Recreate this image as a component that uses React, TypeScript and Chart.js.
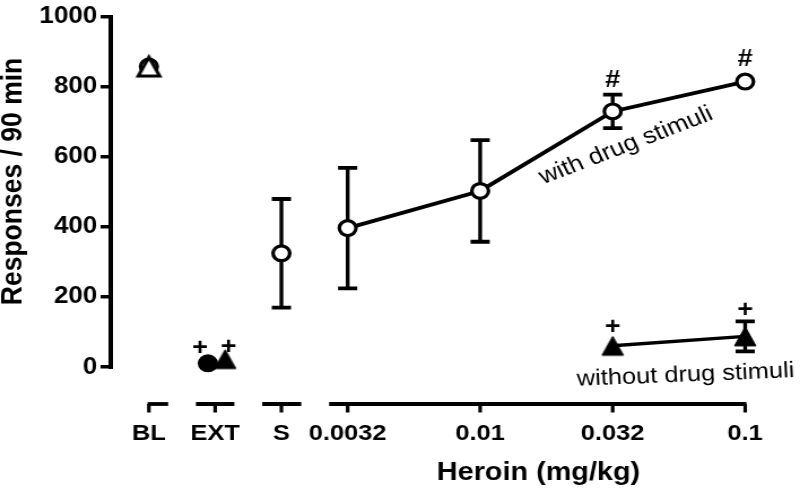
import React, { useEffect, useRef } from "react";
import { Chart, registerables } from "chart.js";

Chart.register(...registerables);

// ---------------- data ----------------
const categoryLabels = ["BL", "EXT", "S", "0.0032", "0.01", "0.032", "0.1"];
const categoryX = [0, 1, 2, 3, 5, 7, 9];
const yTickValues = [0, 200, 400, 600, 800, 1000];

const doseX = [3, 5, 7, 9];
const withDrugMean = [397, 503, 730, 815];
const withDrugSem = [172, 145, 48, 0];

const withoutDoseX = [7, 9];
const withoutDrugMean = [61, 88];
const withoutDrugSem = [0, 43];

const salineX = [2];
const salineMean = [325];
const salineSem = [155];

const baselineX = [0];
const baselineCircle = [858];
const baselineTriangle = [858];

const extCircleX = [0.89];
const extCircle = [11];
const extTriangleX = [1.15];
const extTriangle = [23];

// broken x-axis pieces (in category units)
const axisPieces = [
  [-0.02, 0.29],
  [0.71, 1.29],
  [1.71, 2.3],
  [2.72, 9.02],
];

// ---------------- styling ----------------
const W = 708; // drawn narrower, shown stretched to 800 (reference is horizontally stretched)
const H = 496;
const FONT = "'Liberation Sans', Arial, Helvetica, sans-serif";

function makeTriangle(w: number, h: number, fill: string, stroke: string, lw: number) {
  const pad = lw + 1;
  const c = document.createElement("canvas");
  c.width = Math.ceil(w + pad * 2);
  c.height = Math.ceil(h + pad * 2);
  const g = c.getContext("2d")!;
  const cx = c.width / 2;
  const top = (c.height - h) / 2;
  g.beginPath();
  g.moveTo(cx, top);
  g.lineTo(cx + w / 2, top + h);
  g.lineTo(cx - w / 2, top + h);
  g.closePath();
  g.fillStyle = fill;
  g.fill();
  if (lw > 0) {
    g.lineJoin = "miter";
    g.strokeStyle = stroke;
    g.lineWidth = lw;
    g.stroke();
  }
  return c;
}

const errorSeries = [
  { xs: doseX, m: withDrugMean, e: withDrugSem },
  { xs: salineX, m: salineMean, e: salineSem },
  { xs: withoutDoseX, m: withoutDrugMean, e: withoutDrugSem },
];

function topPx(ys: any, m: number, e: number, half: number) {
  return e > 0 ? ys.getPixelForValue(m + e) - 1.75 : ys.getPixelForValue(m) - half;
}

const figurePlugin = {
  id: "figure",
  beforeDatasetsDraw(chart: any) {
    const ctx = chart.ctx;
    const xs = chart.scales.x;
    const ys = chart.scales.y;
    const area = chart.chartArea;
    ctx.save();
    ctx.strokeStyle = "#000";
    ctx.lineCap = "butt";
    // y axis line (only 0..1000)
    ctx.lineWidth = 4;
    ctx.beginPath();
    ctx.moveTo(area.left, ys.getPixelForValue(1000) - 1.75);
    ctx.lineTo(area.left, ys.getPixelForValue(0) + 1.75);
    ctx.stroke();
    // broken x axis
    const yAxis = area.bottom;
    ctx.lineWidth = 3.8;
    for (const [a, b] of axisPieces) {
      ctx.beginPath();
      ctx.moveTo(xs.getPixelForValue(a), yAxis);
      ctx.lineTo(xs.getPixelForValue(b), yAxis);
      ctx.stroke();
    }
    ctx.lineWidth = 3.2;
    for (const v of categoryX) {
      const x = xs.getPixelForValue(v);
      ctx.beginPath();
      ctx.moveTo(x, yAxis);
      ctx.lineTo(x, yAxis + 8.5);
      ctx.stroke();
    }
    // error bars
    const capHalf = 8.5;
    for (const s of errorSeries) {
      s.xs.forEach((xv, i) => {
        const e = s.e[i];
        if (!(e > 0)) return;
        const x = xs.getPixelForValue(xv);
        const yt = ys.getPixelForValue(s.m[i] + e);
        const yb = ys.getPixelForValue(s.m[i] - e);
        ctx.lineWidth = 3.4;
        ctx.beginPath();
        ctx.moveTo(x, yt);
        ctx.lineTo(x, yb);
        ctx.stroke();
        ctx.lineWidth = 3.8;
        ctx.beginPath();
        ctx.moveTo(x - capHalf, yt);
        ctx.lineTo(x + capHalf, yt);
        ctx.moveTo(x - capHalf, yb);
        ctx.lineTo(x + capHalf, yb);
        ctx.stroke();
      });
    }
    ctx.restore();
  },
  afterDatasetsDraw(chart: any) {
    const ctx = chart.ctx;
    const xs = chart.scales.x;
    const ys = chart.scales.y;
    const area = chart.chartArea;
    ctx.save();
    ctx.fillStyle = "#000";
    ctx.textAlign = "center";
    ctx.textBaseline = "middle";

    const marks = [
      { t: "#", x: doseX[2], y: topPx(ys, withDrugMean[2], withDrugSem[2], 9) - 12, dx: 0 },
      { t: "#", x: doseX[3], y: topPx(ys, withDrugMean[3], withDrugSem[3], 9) - 13, dx: 0 },
      { t: "+", x: withoutDoseX[0], y: topPx(ys, withoutDrugMean[0], withoutDrugSem[0], 10) - 8, dx: 0 },
      { t: "+", x: withoutDoseX[1], y: topPx(ys, withoutDrugMean[1], withoutDrugSem[1], 10) - 9, dx: 0 },
      { t: "+", x: extCircleX[0], y: topPx(ys, extCircle[0], 0, 9) - 6, dx: -7 },
      { t: "+", x: extTriangleX[0], y: topPx(ys, extTriangle[0], 0, 10) - 2, dx: 3 },
    ];
    for (const m of marks) {
      ctx.font = `bold 24px ${FONT}`;
      ctx.fillText(m.t, xs.getPixelForValue(m.x) + m.dx, m.y);
    }

    // series labels
    ctx.font = `23px ${FONT}`;
    ctx.save();
    ctx.translate(xs.getPixelForValue(7.2), ys.getPixelForValue(632));
    ctx.rotate((-23.4 * Math.PI) / 180);
    ctx.fillText("with drug stimuli", 0, 0);
    ctx.restore();

    ctx.font = `22.5px ${FONT}`;
    ctx.save();
    ctx.translate(xs.getPixelForValue(8.1), ys.getPixelForValue(-23));
    ctx.rotate((-2.6 * Math.PI) / 180);
    ctx.fillText("without drug stimuli", 0, 0);
    ctx.restore();

    // axis titles
    ctx.font = `bold 25.5px ${FONT}`;
    ctx.fillText("Heroin (mg/kg)", xs.getPixelForValue(5.88), area.bottom + 69);

    ctx.font = `bold 26.5px ${FONT}`;
    ctx.save();
    ctx.translate(12, ys.getPixelForValue(530));
    ctx.rotate(-Math.PI / 2);
    ctx.fillText("Responses / 90 min", 0, 0);
    ctx.restore();

    ctx.restore();
  },
};

export default function App() {
  const ref = useRef<HTMLCanvasElement>(null);

  useEffect(() => {
    const canvas = ref.current;
    if (!canvas) return;
    const triFilled = makeTriangle(19, 19, "#000", "#000", 1);
    const triOpen = makeTriangle(19, 19, "#fff", "#000", 3);
    const openCircle = {
      pointStyle: "circle",
      pointRadius: 7.4,
      pointBackgroundColor: "#fff",
      pointBorderColor: "#000",
      pointBorderWidth: 3.2,
    };
    const toXY = (xsArr: number[], ysArr: number[]) => xsArr.map((x, i) => ({ x, y: ysArr[i] }));

    const chart = new Chart(canvas, {
      type: "line",
      data: {
        datasets: [
          {
            label: "with drug stimuli",
            data: toXY(doseX, withDrugMean),
            showLine: true,
            borderColor: "#000",
            borderWidth: 3.8,
            ...openCircle,
            order: 2,
            clip: false,
          } as any,
          {
            label: "without drug stimuli",
            data: toXY(withoutDoseX, withoutDrugMean),
            showLine: true,
            borderColor: "#000",
            borderWidth: 3.4,
            pointStyle: triFilled,
            order: 2,
            clip: false,
          } as any,
          {
            label: "S",
            data: toXY(salineX, salineMean),
            showLine: false,
            ...openCircle,
            order: 2,
            clip: false,
          } as any,
          {
            label: "BL triangle",
            data: toXY(baselineX, baselineTriangle),
            showLine: false,
            pointStyle: triOpen,
            order: 1,
            clip: false,
          } as any,
          {
            label: "BL circle",
            data: toXY(baselineX, baselineCircle),
            showLine: false,
            ...openCircle,
            order: 3,
            clip: false,
          } as any,
          {
            label: "EXT triangle",
            data: toXY(extTriangleX, extTriangle),
            showLine: false,
            pointStyle: triFilled,
            order: 1,
            clip: false,
          } as any,
          {
            label: "EXT circle",
            data: toXY(extCircleX, extCircle),
            showLine: false,
            pointStyle: "circle",
            pointRadius: 9,
            pointBackgroundColor: "#000",
            pointBorderColor: "#000",
            pointBorderWidth: 0,
            order: 2,
            clip: false,
          } as any,
        ],
      },
      options: {
        animation: false,
        responsive: false,
        devicePixelRatio: 1,
        events: [],
        layout: { padding: { left: 0, right: 8, top: 15, bottom: 0 } },
        plugins: {
          legend: { display: false },
          tooltip: { enabled: false },
          title: { display: false },
        },
        scales: {
          x: {
            type: "linear",
            min: -0.576,
            max: 9.647,
            border: { display: false },
            grid: { display: false, drawTicks: false },
            afterBuildTicks: (s: any) => {
              s.ticks = categoryX.map((v) => ({ value: v }));
            },
            afterFit: (s: any) => {
              s.height = 92;
            },
            ticks: {
              autoSkip: false,
              maxRotation: 0,
              minRotation: 0,
              padding: 16,
              color: "#000",
              font: { family: FONT, size: 22.5, weight: "bold" },
              callback: (v: any) => {
                const i = categoryX.indexOf(Number(v));
                return i >= 0 ? categoryLabels[i] : "";
              },
            },
          },
          y: {
            type: "linear",
            min: -105.1,
            max: 1000,
            border: { display: false },
            grid: {
              drawOnChartArea: false,
              drawTicks: true,
              tickLength: 9,
              color: "#000",
              lineWidth: 3.5,
            },
            afterBuildTicks: (s: any) => {
              s.ticks = yTickValues.map((v) => ({ value: v }));
            },
            afterFit: (s: any) => {
              s.width = 98;
            },
            ticks: {
              padding: 3,
              color: "#000",
              font: { family: FONT, size: 23, weight: "bold" },
              callback: (v: any) => String(v),
            },
          },
        },
      } as any,
      plugins: [figurePlugin],
    });
    return () => chart.destroy();
  }, []);

  return (
    <div style={{ position: "absolute", left: 0, top: 0, width: 800, height: H, background: "#fff" }}>
      <canvas ref={ref} width={W} height={H} style={{ width: "800px", height: `${H}px`, display: "block" }} />
    </div>
  );
}
